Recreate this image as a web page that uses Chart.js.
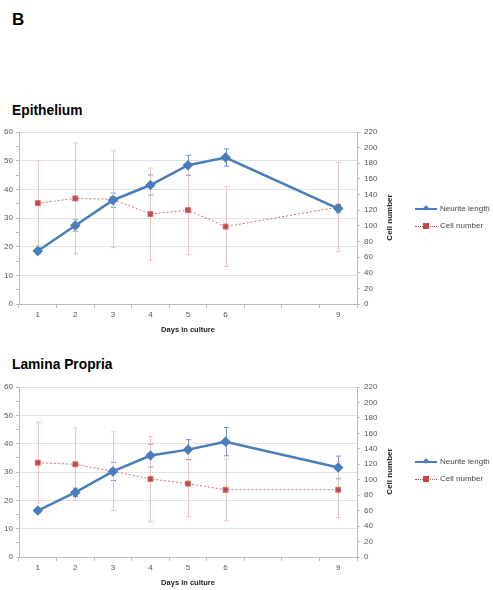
<!DOCTYPE html>
<html>
<head>
<meta charset="utf-8">
<script src="https://cdn.jsdelivr.net/npm/chart.js@4.4.1/dist/chart.umd.min.js"></script>
<style>
  body { margin: 0; background: #fff; font-family: 'Liberation Sans', Arial, sans-serif; }
  #page { position: relative; width: 493px; height: 590px; overflow: hidden; }
  .panel { position: absolute; left: 12px; font-weight: bold; color: #000; }
  canvas { position: absolute; left: 0; }
  .ytitle { position: absolute; font-size: 8px; font-weight: bold; color: #222; transform: rotate(-90deg); transform-origin: center; white-space: nowrap; width: 60px; text-align: center; }
  .legend { position: absolute; left: 415px; font-size: 8px; color: #444; }
  .legend .item { position: relative; height: 17px; line-height: 10px; }
  .legend .line { position: absolute; left: 0; top: 4px; width: 22px; }
  .legend .txt { position: absolute; left: 25px; top: 0; white-space: nowrap; }
  .legend .mk { position: absolute; }
</style>
</head>
<body>
<div id="page">
  <div class="panel" style="top:10px; font-size:17px;">B</div>
  <div class="panel" style="top:103px; font-size:13.8px;">Epithelium</div>
  <div class="panel" style="top:357px; font-size:13.8px;">Lamina Propria</div>

  <canvas id="epi" width="493" height="214" style="top:120px"></canvas>
  <canvas id="lp" width="493" height="212" style="top:375px"></canvas>

  <div class="ytitle" style="left:359px; top:213px;">Cell number</div>
  <div class="ytitle" style="left:359px; top:467px;">Cell number</div>

  <div class="legend" style="top:204px;">
    <div class="item"><div class="line" style="border-top:2px solid #4a7ebb;"></div><div class="mk" style="left:9px;top:2px;width:4px;height:4px;background:#4a7ebb;transform:rotate(45deg);"></div><div class="txt">Neurite length</div></div>
    <div class="item"><div class="line" style="border-top:1px dotted #be4b48;top:5px;"></div><div class="mk" style="left:8px;top:2px;width:6px;height:6px;background:#be4b48;"></div><div class="txt">Cell number</div></div>
  </div>
  <div class="legend" style="top:457px;">
    <div class="item"><div class="line" style="border-top:2px solid #4a7ebb;"></div><div class="mk" style="left:9px;top:2px;width:4px;height:4px;background:#4a7ebb;transform:rotate(45deg);"></div><div class="txt">Neurite length</div></div>
    <div class="item"><div class="line" style="border-top:1px dotted #be4b48;top:5px;"></div><div class="mk" style="left:8px;top:2px;width:6px;height:6px;background:#be4b48;"></div><div class="txt">Cell number</div></div>
  </div>
</div>
<script>
// Days 1..9 (7 and 8 have no measurements, labels hidden)
const days = [1, 2, 3, 4, 5, 6, 7, 8, 9];
const shownDays = [1, 2, 3, 4, 5, 6, 9];

// Epithelium
const epiNeurite    = [18.5, 27.4, 36.2, 41.5, 48.4, 51.1, null, null, 33.3];
const epiNeuriteErr = [1.0, 2.0, 2.5, 3.5, 3.5, 3.0, null, null, 1.5];
const epiCells      = [129, 135, 134, 115, 120, 99, null, null, 124];
const epiCellsErr   = [54, 71, 62, 59, 57, 51, null, null, 57];

// Lamina Propria
const lpNeurite    = [16.4, 22.8, 30.2, 35.8, 37.9, 40.7, null, null, 31.6];
const lpNeuriteErr = [0.8, 1.5, 3.2, 4.0, 3.5, 5.0, null, null, 4.0];
const lpCells      = [122, 120, 111, 101, 95, 87, null, null, 87];
const lpCellsErr   = [52, 47, 51, 55, 43, 40, null, null, 36];

const leftTicks = { min: 0, max: 60, step: 5 };
const rightTicks = { min: 0, max: 220, step: 10 };

// draws the error bars through the dataset's own y scale
const errorBars = {
  id: 'errorBars',
  beforeDatasetsDraw(chart) {
    const ctx = chart.ctx;
    chart.data.datasets.forEach((ds, i) => {
      if (!ds.errors) return;
      const meta = chart.getDatasetMeta(i);
      const scale = chart.scales[ds.yAxisID];
      ctx.save();
      ctx.strokeStyle = ds.errorColor;
      ctx.lineWidth = 1;
      meta.data.forEach((pt, j) => {
        const v = ds.data[j], e = ds.errors[j];
        if (v == null || e == null) return;
        const yTop = scale.getPixelForValue(v + e);
        const yBot = scale.getPixelForValue(v - e);
        const x = Math.round(pt.x) + 0.5;
        ctx.beginPath();
        ctx.moveTo(x, yTop); ctx.lineTo(x, yBot);
        ctx.moveTo(x - 2.5, yTop); ctx.lineTo(x + 2.5, yTop);
        ctx.moveTo(x - 2.5, yBot); ctx.lineTo(x + 2.5, yBot);
        ctx.stroke();
      });
      ctx.restore();
    });
  }
};

function makeChart(id, neurite, neuriteErr, cells, cellsErr) {
  const tickFont = { family: "'Liberation Sans', Arial, sans-serif", size: 8 };
  return new Chart(document.getElementById(id), {
    type: 'line',
    data: {
      labels: days,
      datasets: [
        {
          label: 'Neurite length',
          data: neurite,
          errors: neuriteErr,
          errorColor: '#6f93c8',
          yAxisID: 'y',
          borderColor: '#4a7ebb',
          backgroundColor: '#4a7ebb',
          borderWidth: 2.5,
          pointStyle: 'rectRot',
          pointRadius: 3.5,
          spanGaps: true,
          tension: 0
        },
        {
          label: 'Cell number',
          data: cells,
          errors: cellsErr,
          errorColor: '#f2c0c0',
          yAxisID: 'y1',
          borderColor: '#d0706e',
          backgroundColor: '#be4b48',
          borderWidth: 1,
          borderDash: [2, 2],
          pointStyle: 'rect',
          pointRadius: 3.5,
          spanGaps: true,
          tension: 0
        }
      ]
    },
    options: {
      responsive: false,
      animation: false,
      layout: { padding: { top: 12, right: 108, left: 0, bottom: 0 } },
      plugins: { legend: { display: false }, tooltip: { enabled: false } },
      scales: {
        x: {
          type: 'category',
          offset: true,
          grid: { offset: true, drawOnChartArea: false, tickLength: 4, color: '#bbb' },
          border: { color: '#bbb' },
          ticks: {
            font: tickFont, color: '#555', padding: 2, maxRotation: 0, autoSkip: false,
            callback: function (val) { const d = days[val]; return shownDays.includes(d) ? String(d) : ''; }
          },
          title: { display: true, text: 'Days in culture', font: { family: tickFont.family, size: 7.5, weight: 'bold' }, color: '#222', padding: { top: 3, bottom: 0 } },
          afterFit: s => { s.height = 30; }
        },
        y: {
          position: 'left',
          min: leftTicks.min, max: leftTicks.max,
          grid: {
            color: c => (c.tick.value % 10 === 0 && c.tick.value > 0) ? '#e2e2e2' : 'rgba(0,0,0,0)',
            tickColor: '#bbb', tickLength: 3
          },
          border: { color: '#bbb' },
          ticks: {
            stepSize: leftTicks.step, font: tickFont, color: '#555', padding: 3,
            callback: v => v % 10 === 0 ? v : ''
          },
          afterFit: s => { s.width = 19; }
        },
        y1: {
          position: 'right',
          min: rightTicks.min, max: rightTicks.max,
          grid: { drawOnChartArea: false, tickColor: '#bbb', tickLength: 3 },
          border: { color: '#bbb' },
          ticks: {
            stepSize: rightTicks.step, font: tickFont, color: '#555', padding: 4,
            callback: v => v % 20 === 0 ? v : ''
          },
          afterFit: s => { s.width = 28; }
        }
      }
    },
    plugins: [errorBars]
  });
}

makeChart('epi', epiNeurite, epiNeuriteErr, epiCells, epiCellsErr);
makeChart('lp', lpNeurite, lpNeuriteErr, lpCells, lpCellsErr);
</script>
</body>
</html>
